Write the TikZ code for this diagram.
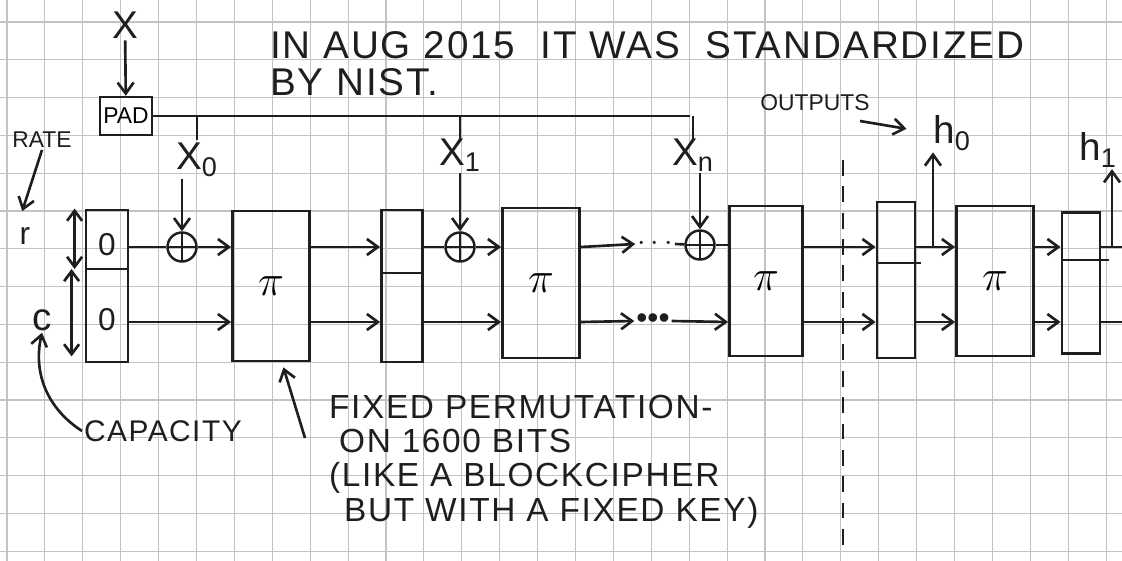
\documentclass[tikz,border=0pt]{standalone}
\usepackage{fontspec}
\setmainfont{Liberation Sans}
\newfontfamily\handfont[LetterSpace=5]{Liberation Sans}
\usetikzlibrary{arrows.meta, calc}
\definecolor{ink}{RGB}{30,30,30}
\definecolor{gridline}{RGB}{195,195,195}
\newcommand{\fsbig}{\fontsize{22}{24}\selectfont}
\newcommand{\fsmid}{\fontsize{18}{20}\selectfont}
\newcommand{\fsnote}{\handfont\fontsize{19}{19.5}\selectfont}
\newcommand{\fssmall}{\fontsize{13}{14}\selectfont}
\tikzset{
  hand/.style={text=ink, inner sep=1pt},
  statebox/.style={draw=ink, line width=1.6pt, minimum width=0.84cm, minimum height=3.04cm, inner sep=0pt},
  permbox/.style={draw=ink, line width=1.6pt, minimum width=1.54cm, minimum height=3.0cm, inner sep=0pt,
    font=\fontsize{30}{30}\selectfont},
  xorop/.style={draw=ink, circle, line width=1.4pt, minimum size=0.58cm, inner sep=0pt,
    path picture={\draw[ink, line width=1.2pt]
      (path picture bounding box.north) -- (path picture bounding box.south)
      (path picture bounding box.west) -- (path picture bounding box.east);}},
  wire/.style={draw=ink, line width=1.5pt},
  flow/.style={wire, -{Straight Barb[length=2.2mm, width=3.2mm]}},
}

\begin{document}
\begin{tikzpicture}[x=0.02cm, y=-0.02cm]
  \useasboundingbox (0,0) rectangle (1122,561);

  % ---------- graph paper ----------
  \begin{scope}
    \clip (0,0) rectangle (1122,561);
    \fill[white] (0,0) rectangle (1122,561);
    \foreach \gx in {7,44.9,...,1122}{\draw[gridline, line width=0.6pt] (\gx,0) -- (\gx,561);}
    \foreach \gy in {22,59.8,...,561}{\draw[gridline, line width=0.6pt] (0,\gy) -- (1122,\gy);}
  \end{scope}

  % ---------- notes ----------
  \node[hand, anchor=west, font=\handfont\fsbig] (std) at (268,45) {IN AUG 2015 \ IT WAS \ STANDARDIZED};
  \node[hand, anchor=west, font=\handfont\fsbig] (nist) at (268,82) {BY NIST.};

  % ---------- input and padding ----------
  \node[hand, font=\fsbig] (xin) at (125,25) {X};
  \node[draw=ink, line width=1.4pt, font=\fssmall, minimum width=1.04cm, minimum height=0.76cm, inner sep=1pt]
       (pad) at (126,116) {PAD};
  \draw[flow] (xin) -- (pad);
  \coordinate (busend) at (690,110);
  \draw[wire] (pad.east) -- (pad.east -| busend);

  \node[hand, font=\fsbig] (lx0) at (197,160) {X\textsubscript{0}};
  \node[hand, font=\fsbig] (lx1) at (460,155) {X\textsubscript{1}};
  \node[hand, font=\fsbig] (lxn) at (693,155) {X\textsubscript{n}};
  \foreach \l in {lx0,lx1,lxn}{\draw[wire] (\l |- pad.east) -- ++(0,24);}

  % ---------- lanes ----------
  \coordinate (rt) at (0,247);
  \coordinate (cb) at (0,322);
  \coordinate (edge) at (1122,0);

  % ---------- states and permutations ----------
  \node[statebox] (s0) at (107,286) {};
  \node[statebox, minimum width=0.82cm] (s1) at (402,286) {};
  \node[statebox, minimum width=0.76cm, minimum height=3.12cm] (s2) at (896,280) {};
  \node[statebox, minimum width=0.76cm, minimum height=2.82cm] (s3) at (1081,283) {};
  \node[permbox] (p1) at (271,286) {$\pi$};
  \node[permbox] (p2) at (541,283) {$\pi$};
  \node[permbox, minimum width=1.46cm] (p3) at (766,281) {$\pi$};
  \node[permbox] (p4) at (995,281) {$\pi$};

  \coordinate (d0) at (0,269);
  \coordinate (d1) at (0,273);
  \coordinate (d2) at (0,263);
  \coordinate (d3) at (0,260);
  \draw[wire] (s0.west |- d0) -- (s0.east |- d0);
  \draw[wire] (s1.west |- d1) -- (s1.east |- d1);
  \draw[wire] (s2.west |- d2) -- ([xshift=0.1cm]s2.east |- d2);
  \draw[wire] (s3.west |- d3) -- ([xshift=0.16cm]s3.east |- d3);
  \node[hand, font=\fsmid] (zt) at (107,245) {0};
  \node[hand, font=\fsmid] (zb) at (107,320) {0};

  % ---------- rate / capacity ----------
  \node[hand, font=\fssmall] (rate) at (42,140) {RATE};
  \node[hand, font=\fsmid] (r) at (25,236) {r};
  \node[hand, font=\fsbig] (c) at (42,320) {c};
  \draw[flow, shorten >=0.3cm] (rate.south) -- (r.north west);
  \draw[wire, {Straight Barb[length=2mm, width=3mm]}-{Straight Barb[length=2mm, width=3mm]}]
       ([xshift=-0.2cm]s0.north west) -- ([xshift=-0.2cm]s0.west |- d0);
  \draw[wire, {Straight Barb[length=2mm, width=3mm]}-{Straight Barb[length=2mm, width=3mm]}]
       ([xshift=-0.26cm]s0.west |- d0) -- ([xshift=-0.26cm,yshift=0.14cm]s0.south west);
  \node[hand, anchor=west, font=\handfont\fontsize{17}{18}\selectfont] (cap) at (82,431) {CAPACITY};
  \draw[flow] (cap.west) to[bend left=35] (c.south);

  % ---------- xor ----------
  \node[xorop] (xor0) at (182,247) {};
  \node[xorop] (xor1) at (460,247) {};
  \node[xorop] (xorn) at (700,245) {};
  \draw[flow] (lx0.south -| xor0) -- (xor0.north);
  \draw[flow] (lx1.south -| xor1) -- (xor1.north);
  \draw[flow] (lxn.south -| xorn) -- (xorn.north);

  % ---------- absorbing ----------
  \draw[wire] (s0.east |- rt) -- (xor0);
  \draw[flow] (xor0) -- (p1.west |- rt);
  \draw[flow] (s0.east |- cb) -- (p1.west |- cb);
  \draw[flow] (p1.east |- rt) -- (s1.west |- rt);
  \draw[flow] (p1.east |- cb) -- (s1.west |- cb);
  \draw[wire] (s1.east |- rt) -- (xor1);
  \draw[flow] (xor1) -- (p2.west |- rt);
  \draw[flow] (s1.east |- cb) -- (p2.west |- cb);
  \node[hand, font=\fsmid] (dtop) at (655,244) {$\cdots$};
  \node[hand, font=\fsmid] (dbot) at (653,321) {\textbullet\textbullet\textbullet};
  \draw[flow] (p2.east |- rt) -- (dtop.west);
  \draw[wire] (dtop.east) -- (xorn);
  \draw[flow] (p2.east |- cb) -- (dbot.west);
  \draw[flow] (dbot.east) -- (p3.west |- cb);
  \draw[wire] (xorn) -- (p3.west |- xorn);

  % ---------- squeezing ----------
  \coordinate (cuttop) at (843,160);
  \coordinate (cutbot) at (843,545);
  \draw[ink, line width=1.3pt, dash pattern=on 9pt off 6pt] (cuttop) -- (cutbot);
  \draw[flow] (p3.east |- rt) -- (s2.west |- rt);
  \draw[flow] (p3.east |- cb) -- (s2.west |- cb);
  \draw[flow] (s2.east |- rt) -- (p4.west |- rt);
  \draw[flow] (s2.east |- cb) -- (p4.west |- cb);
  \draw[flow] (p4.east |- rt) -- (s3.west |- rt);
  \draw[flow] (p4.east |- cb) -- (s3.west |- cb);
  \draw[wire] (s3.east |- rt) -- (edge |- rt);
  \draw[wire] (s3.east |- cb) -- (edge |- cb);

  \node[hand, font=\fsbig] (h0) at (952,133) {h\textsubscript{0}};
  \node[hand, font=\fsbig] (h1) at (1098,150) {h\textsubscript{1}};
  \coordinate (tap0) at (933,247);
  \coordinate (tap1) at (1112,247);
  \draw[flow] (tap0) -- (tap0 |- h0.south);
  \draw[flow] (tap1) -- (tap1 |- h1.south);
  \node[hand, font=\fssmall] (outs) at (815,103) {OUTPUTS};
  \coordinate (outtail) at (860,121);
  \draw[flow, shorten >=0.5cm] (outtail) -- (h0.west);

  % ---------- permutation note ----------
  \node[hand, anchor=north west, align=left, font=\fsnote] (fix) at (327,393)
       {FIXED PERMUTATION-\\ \hspace*{0.2cm}ON 1600 BITS\\ (LIKE A BLOCKCIPHER\\ \hspace*{0.3cm}BUT WITH A FIXED KEY)};
  \coordinate (fixtail) at (305,438);
  \draw[flow] (fixtail) -- ([xshift=-0.55cm,yshift=-0.1cm]p1.south east);
\end{tikzpicture}
\end{document}
